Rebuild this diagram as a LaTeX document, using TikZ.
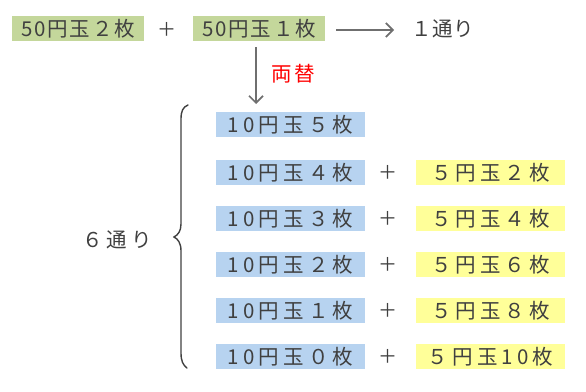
\documentclass[tikz,border=0pt]{standalone}
\usepackage{fontspec}
\usetikzlibrary{arrows.meta}
\newfontfamily\jpG[LetterSpace=9]{Noto Sans CJK JP}
\newfontfamily\jpB[LetterSpace=20]{Noto Sans CJK JP}
\newfontfamily\jpS[LetterSpace=2]{Noto Sans CJK JP}
\newfontfamily\jpM[LetterSpace=20]{Noto Sans CJK JP}
\newfontfamily\jpR[LetterSpace=10]{Noto Sans CJK JP}
\definecolor{txt}{HTML}{404040}
\definecolor{grn}{HTML}{C4D79B}
\definecolor{blu}{HTML}{B7D3F0}
\definecolor{ylw}{HTML}{FFFF99}
\definecolor{arr}{HTML}{6F6F6F}
\tikzset{
  base/.style={inner sep=0pt, text=txt, anchor=center},
  gbox/.style={base, fill=grn, minimum width=132pt, minimum height=25pt, font=\fontsize{20.5}{20.5}\selectfont\jpG},
  bbox/.style={base, fill=blu, minimum width=149pt, minimum height=25pt, font=\fontsize{20.5}{20.5}\selectfont\jpB},
  ybox/.style={base, fill=ylw, minimum width=149pt, minimum height=25pt, font=\fontsize{20.5}{20.5}\selectfont\jpB},
  plus/.style={base, font=\fontsize{19}{19}\selectfont\jpS},
  conn/.style={draw=arr, line width=1.7pt, -{Straight Barb[length=7pt,width=14pt,line width=1.7pt]}},
}
\begin{document}
\begin{tikzpicture}[x=1pt,y=-1pt]
\useasboundingbox (0,0) rectangle (586,391);
\node[gbox] (g1) at (78,28.5) {50円玉２枚\hspace{-0.09em}};
\node[plus] (p0) at (167,29) {＋\hspace{-0.02em}};
\node[gbox] (g2) at (259,28.5) {50円玉１枚\hspace{-0.09em}};
\node[base, font=\fontsize{20.5}{20.5}\selectfont\jpS] (one) at (443,29) {１通り\hspace{-0.02em}};
\coordinate (arst) at (336,30);
\coordinate (arend) at (394,30);
\draw[conn] (arst) -- (arend);
\node[base, text=red, font=\fontsize{20.5}{20.5}\selectfont\jpR] (ryo) at (293,74) {両替\hspace{-0.1em}};
\node[bbox] (b1) at (290.5,124.5) {10円玉５枚\hspace{-0.2em}};
\node[bbox] (b2) at (290.5,172.5) {10円玉４枚\hspace{-0.2em}};
\node[bbox] (b3) at (290.5,218.5) {10円玉３枚\hspace{-0.2em}};
\node[bbox] (b4) at (290.5,264.5) {10円玉２枚\hspace{-0.2em}};
\node[bbox] (b5) at (290.5,310.5) {10円玉１枚\hspace{-0.2em}};
\node[bbox] (b6) at (290.5,356.5) {10円玉０枚\hspace{-0.2em}};
\coordinate (dst) at (256,47);
\coordinate (dend) at (256,104);
\draw[conn] (dst) -- (dend);
\node[plus] (p2) at (388,172.5) {＋\hspace{-0.02em}};
\node[plus] (p3) at (388,218.5) {＋\hspace{-0.02em}};
\node[plus] (p4) at (388,264.5) {＋\hspace{-0.02em}};
\node[plus] (p5) at (388,310.5) {＋\hspace{-0.02em}};
\node[plus] (p6) at (388,356.5) {＋\hspace{-0.02em}};
\node[ybox] (y2) at (490.5,172.5) {５円玉２枚\hspace{-0.2em}};
\node[ybox] (y3) at (490.5,218.5) {５円玉４枚\hspace{-0.2em}};
\node[ybox] (y4) at (490.5,264.5) {５円玉６枚\hspace{-0.2em}};
\node[ybox] (y5) at (490.5,310.5) {５円玉８枚\hspace{-0.2em}};
\node[ybox] (y6) at (490.5,356.5) {５円玉10枚\hspace{-0.2em}};
\node[base, font=\fontsize{20.5}{20.5}\selectfont\jpM] (six) at (117,240) {６通り\hspace{-0.2em}};
\draw[txt, line width=1.4pt, line cap=round]
  (188,105) .. controls (183,107) and (181,111) .. (181,119)
  -- (181,224) .. controls (181,231) and (178,235) .. (174,237)
  .. controls (178,239) and (181,243) .. (181,251)
  -- (181,353) .. controls (181,361) and (183,365) .. (187,368);
\end{tikzpicture}
\end{document}
